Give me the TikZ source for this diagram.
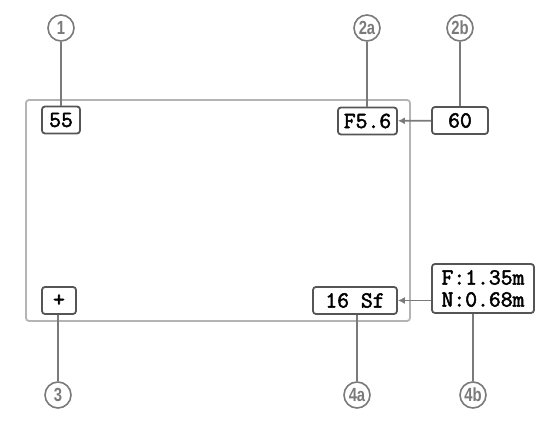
\documentclass[tikz,border=0pt]{standalone}
\usepackage{fontspec}
\usepackage{xcolor}
\usetikzlibrary{arrows.meta,positioning}
\newfontfamily\tagfont[FakeStretch=0.78]{Liberation Sans}
\newfontfamily\lcdfont[FakeBold=2.2]{Latin Modern Mono}
\definecolor{tagline}{HTML}{7A7A7A}
\definecolor{boxline}{HTML}{555555}
\definecolor{scrline}{HTML}{B4B4B4}

\begin{document}
\begin{tikzpicture}[
    x=1pt, y=1pt,
    screen/.style={draw=scrline, line width=1.8pt, rounded corners=3pt},
    lcd/.style={draw=boxline, line width=1.8pt, rounded corners=3pt, fill=white,
      inner sep=0pt, minimum height=27pt, align=center,
      font=\lcdfont\fontsize{23}{22}\selectfont},
    callout/.style={circle, draw=tagline, line width=1.6pt, fill=white,
      minimum size=26pt, inner sep=0pt, text=tagline,
      font=\tagfont\bfseries\fontsize{19}{19}\selectfont},
    lead/.style={draw=tagline, line width=1.8pt},
    arr/.style={lead, -{Latex[length=7pt, width=7pt]}}
  ]
    \useasboundingbox (0,0) rectangle (550,434);

    % camera screen
    \draw[screen] (26,113) rectangle (410,334);

    % readouts
    \node[lcd, minimum width=38pt] (b55) at (61,314) {55};
    \node[lcd, minimum width=59pt] (bap) at (367.5,313) {F5.6};
    \node[lcd, minimum width=56pt] (bsh) at (460,313.5) {60};
    \node[lcd, minimum width=34pt] (bpl) at (59,133.5) {+};
    \node[lcd, minimum width=84pt] (bfr) at (355,133.5) {16 Sf};
    \node[lcd, minimum width=102pt, minimum height=49pt] (bdf) at (483,145.5) {F:1.35m\\N:0.68m};

    % callouts
    \node[callout] (c1) at (61,406) {1};
    \node[callout] (c2a) at (367,406) {2a};
    \node[callout] (c2b) at (460,406) {2b};
    \node[callout] (c3) at (58,39) {3};
    \node[callout] (c4a) at (357,39) {4a};
    \node[callout] (c4b) at (473,39) {4b};

    \draw[lead] (c1) -- (c1 |- b55.north);
    \draw[lead] (c2a) -- (c2a |- bap.north);
    \draw[lead] (c2b) -- (c2b |- bsh.north);
    \draw[lead] (c3) -- (c3 |- bpl.south);
    \draw[lead] (c4a) -- (c4a |- bfr.south);
    \draw[lead] (c4b) -- (c4b |- bdf.south);

    \draw[arr] (bsh) -- (bap);
    \draw[arr] (bdf.west |- bfr) -- (bfr);
\end{tikzpicture}
\end{document}
